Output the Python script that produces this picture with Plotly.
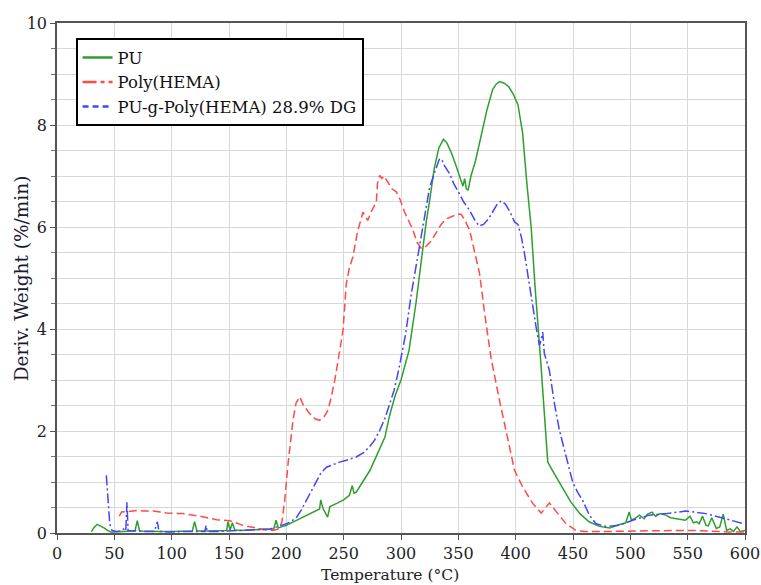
import plotly.graph_objects as go

# ---------------- data ----------------
pu_x = [30, 32, 35, 38, 41, 44, 47, 50, 55, 60, 65, 68, 70, 72, 80, 90, 100, 110, 118, 120, 122,
        130, 140, 148, 149, 151, 153, 155, 160, 170, 180, 185, 189, 191, 193, 200, 209, 218, 226,
        229, 230, 232, 236, 238, 244, 250, 255, 257.5, 259, 261, 266, 270, 273, 276, 279, 283, 286,
        290, 295, 300, 307, 313, 319, 322, 325, 329, 333, 337, 340, 344, 348, 352, 354, 355.5, 357,
        358.5, 361, 365, 370, 375, 380, 383, 386, 390, 394, 398, 402, 406, 410, 413.5, 417, 420,
        422, 424, 426, 428, 432, 436, 441, 448, 456, 464, 473, 482, 490, 496, 499, 501, 505, 508,
        512, 515, 519, 522, 526, 531, 535, 540, 545, 548, 552, 555, 558, 560, 563, 566, 568, 571,
        575, 578, 581, 584, 587, 590, 593, 596, 600]
pu_y = [0.02, 0.10, 0.17, 0.14, 0.10, 0.05, 0.02, 0.02, 0.03, 0.03, 0.04, 0.04, 0.24, 0.04, 0.03,
        0.03, 0.03, 0.03, 0.04, 0.22, 0.04, 0.04, 0.05, 0.05, 0.22, 0.06, 0.20, 0.06, 0.05, 0.06,
        0.07, 0.07, 0.08, 0.25, 0.10, 0.15, 0.25, 0.35, 0.45, 0.47, 0.65, 0.48, 0.31, 0.52, 0.58,
        0.65, 0.74, 0.93, 0.78, 0.80, 0.98, 1.12, 1.23, 1.38, 1.52, 1.72, 1.88, 2.30, 2.70, 3.00,
        3.58, 4.50, 5.62, 6.10, 6.52, 7.15, 7.55, 7.72, 7.65, 7.45, 7.20, 6.95, 6.80, 6.95, 6.75,
        6.72, 7.00, 7.30, 7.80, 8.30, 8.70, 8.80, 8.85, 8.82, 8.75, 8.60, 8.40, 7.85, 6.80, 6.00,
        4.80, 3.97, 3.32, 2.67, 2.01, 1.39, 1.23, 1.08, 0.90, 0.61, 0.38, 0.22, 0.13, 0.10, 0.16,
        0.20, 0.41, 0.25, 0.30, 0.35, 0.28, 0.37, 0.41, 0.33, 0.38, 0.35, 0.30, 0.28, 0.27, 0.25,
        0.33, 0.20, 0.22, 0.18, 0.33, 0.15, 0.14, 0.30, 0.09, 0.12, 0.37, 0.05, 0.08, 0.03, 0.12,
        0.03, 0.05]

hema_x = [54.3, 56.3, 62, 69.4, 76, 83.9, 90, 95.5, 110, 124.6, 139.1, 150.7, 162.3, 173.9, 182,
          188.4, 193, 196, 198.6, 201.5, 203.5, 205.8, 208.5, 211.7, 215, 220.4, 225, 229, 233,
          236.4, 239, 242.2, 246, 249.4, 252.3, 255, 258, 262, 266.8, 269, 271, 274, 278.5, 279.5,
          281.4, 283.5, 285, 288, 292, 295.9, 299, 303, 307.5, 310.4, 314, 317.7, 321, 326, 331,
          335, 339.5, 345, 349, 352.5, 356, 359.8, 364, 368.5, 373, 378.6, 385.9, 391.7, 399,
          406.2, 414.9, 422.2, 429.4, 436.8, 444, 452.7, 460, 480, 500, 520, 540, 555, 570, 585, 600]
hema_y = [0.33, 0.41, 0.42, 0.44, 0.43, 0.43, 0.41, 0.39, 0.38, 0.33, 0.26, 0.24, 0.15, 0.09, 0.06,
          0.05, 0.08, 0.20, 0.64, 1.36, 1.80, 2.21, 2.55, 2.67, 2.50, 2.34, 2.24, 2.21, 2.28, 2.41,
          2.65, 2.99, 3.50, 3.97, 4.89, 5.20, 5.41, 5.90, 6.29, 6.20, 6.13, 6.30, 6.49, 6.85, 7.01,
          6.95, 7.00, 6.90, 6.75, 6.69, 6.55, 6.30, 6.07, 5.94, 5.70, 5.58, 5.60, 5.72, 5.90, 6.05,
          6.16, 6.22, 6.25, 6.25, 6.12, 5.94, 5.50, 5.09, 4.30, 3.42, 2.60, 2.01, 1.23, 0.90, 0.58,
          0.39, 0.59, 0.38, 0.18, 0.05, 0.03, 0.03, 0.04, 0.04, 0.05, 0.05, 0.03, 0.02, 0.02]

graft_x = [43, 44.5, 46, 48, 52, 56, 58, 60, 61, 62, 66, 70, 75, 85, 87.5, 89, 100, 110, 120, 129,
           130, 131, 140, 150, 160, 170, 180, 186, 192, 200, 205, 209, 213, 217.5, 222, 226, 230,
           235, 240, 246.5, 254, 261, 267, 272.6, 277, 281.4, 286, 290, 294, 298, 304, 309, 313,
           317.7, 321, 325, 329, 333.6, 336, 338, 342.3, 346, 351, 355, 359.8, 364, 368, 372, 376,
           380, 384, 387.4, 391, 395, 399, 402, 405, 407.7, 411, 414, 417.8, 420.7, 422.2, 423.6,
           425, 429.4, 433.8, 438.2, 444, 449.7, 454, 458.4, 464.3, 470.1, 478.8, 490.4, 502,
           516.6, 531, 548.5, 566, 583.3, 599.3]
graft_y = [1.13, 0.60, 0.18, 0.05, 0.03, 0.04, 0.08, 0.04, 0.60, 0.05, 0.04, 0.05, 0.03, 0.03, 0.22,
           0.03, 0.02, 0.03, 0.03, 0.03, 0.15, 0.03, 0.03, 0.04, 0.05, 0.06, 0.08, 0.08, 0.12, 0.18,
           0.24, 0.31, 0.45, 0.64, 0.84, 1.03, 1.17, 1.29, 1.34, 1.39, 1.44, 1.49, 1.57, 1.69, 1.82,
           2.01, 2.25, 2.54, 2.80, 3.20, 3.90, 4.69, 5.20, 5.80, 6.30, 6.78, 7.05, 7.34, 7.30, 7.20,
           7.05, 6.85, 6.65, 6.48, 6.33, 6.15, 6.02, 6.05, 6.15, 6.30, 6.45, 6.51, 6.45, 6.30, 6.10,
           6.05, 5.80, 5.48, 5.00, 4.50, 4.04, 3.68, 3.78, 3.94, 3.52, 3.19, 2.54, 2.01, 1.49, 1.00,
           0.80, 0.64, 0.35, 0.18, 0.13, 0.15, 0.25, 0.35, 0.38, 0.43, 0.38, 0.28, 0.18]

names = ["PU", "Poly(HEMA)", "PU-g-Poly(HEMA) 28.9% DG"]
x_ticks = [0, 50, 100, 150, 200, 250, 300, 350, 400, 450, 500, 550, 600]
y_ticks = [0, 2, 4, 6, 8, 10]
x_title = "Temperature (°C)"
y_title = "Deriv. Weight (%/min)"

GREEN = "#2f9e2f"
RED = "#ff4a4a"
BLUE = "#4444ff"
FONT = "DejaVu Serif"

fig = go.Figure()
# plotted curves
fig.add_trace(go.Scatter(x=pu_x, y=pu_y, mode="lines", showlegend=False,
                         line=dict(color=GREEN, width=1.5)))
fig.add_trace(go.Scatter(x=hema_x, y=hema_y, mode="lines", showlegend=False,
                         line=dict(color=RED, width=1.5, dash="8px,4px")))
fig.add_trace(go.Scatter(x=graft_x, y=graft_y, mode="lines", showlegend=False,
                         line=dict(color=BLUE, width=1.5, dash="10px,3px,2px,3px")))
# legend entries (styled as in the original legend)
fig.add_trace(go.Scatter(x=[None], y=[None], mode="lines", name=names[0],
                         line=dict(color=GREEN, width=2.5)))
fig.add_trace(go.Scatter(x=[None], y=[None], mode="lines", name=names[1],
                         line=dict(color=RED, width=2.5, dash="14px,4px,4px,4px")))
fig.add_trace(go.Scatter(x=[None], y=[None], mode="lines", name=names[2],
                         line=dict(color=BLUE, width=2.5, dash="6px,4px")))

fig.update_layout(
    width=761, height=585,
    margin=dict(l=57, r=16, t=23, b=52, autoexpand=False),
    paper_bgcolor="white", plot_bgcolor="white",
    font=dict(family=FONT, size=15, color="#222222"),
    legend=dict(x=0.027, y=0.97, xanchor="left", yanchor="top",
                bordercolor="black", borderwidth=2, bgcolor="white",
                font=dict(family=FONT, size=16.5, color="#111111"),
                tracegroupgap=0, itemwidth=30),
    xaxis=dict(range=[0, 600], tickvals=x_ticks, ticktext=[str(v) for v in x_ticks],
               showgrid=True, gridcolor="#d8d8d8", gridwidth=1.2,
               showline=True, linecolor="#555555", linewidth=1.5, mirror=True,
               ticks="outside", ticklen=5, tickcolor="#555555", zeroline=False,
               ticklabeloverflow="allow",
               tickfont=dict(family=FONT, size=16, color="#222222")),
    yaxis=dict(range=[0, 10], tickvals=y_ticks, ticktext=[str(v) for v in y_ticks],
               showgrid=True, gridcolor="#d8d8d8", gridwidth=1.2,
               showline=True, linecolor="#555555", linewidth=1.5, mirror=True,
               ticks="outside", ticklen=5, tickcolor="#555555", zeroline=False,
               ticklabeloverflow="allow",
               minor=dict(dtick=0.5, showgrid=True, gridcolor="#d8d8d8", gridwidth=1.2,
                          ticks="outside", ticklen=4, tickcolor="#777777"),
               tickfont=dict(family=FONT, size=16, color="#222222")),
    annotations=[
        dict(text=x_title, xref="paper", yref="paper", x=0.484, y=-0.082,
             xanchor="center", yanchor="middle", showarrow=False,
             font=dict(family=FONT, size=15.5, color="#222222")),
        dict(text=y_title, xref="paper", yref="paper", x=-0.052, y=0.50,
             xanchor="center", yanchor="middle", textangle=-90, showarrow=False,
             font=dict(family=FONT, size=18.5, color="#1a1a33")),
    ],
)

fig.write_html("out.html")
